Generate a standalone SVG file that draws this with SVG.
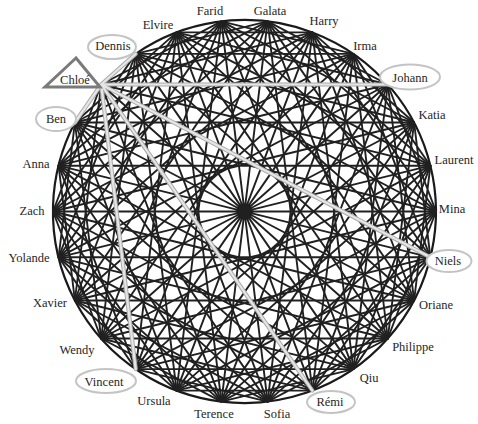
<svg xmlns="http://www.w3.org/2000/svg" width="478" height="424" viewBox="0 0 478 424">
<style>
.ch{fill:none;stroke:#202020;stroke-width:1.9;stroke-linecap:round}
.rim{fill:none;stroke:#1a1a1a;stroke-width:2.2}
.hlo{fill:none;stroke:#a9a9a9;stroke-width:4.2;stroke-linecap:round}
.hli{fill:none;stroke:#e6e6e6;stroke-width:2.2;stroke-linecap:round}
.lb{font-family:"Liberation Serif","Times New Roman",serif;font-size:12.5px;fill:#262626;text-anchor:middle}
.ring{fill:#fff;stroke:#c4c4c4;stroke-width:2}
.tri{fill:#fff;stroke:#7a7a7a;stroke-width:3;stroke-linejoin:miter}
</style>
<rect width="478" height="424" fill="#fff"/>
<g id="connectors">
<path class="rim" d="M135.7,53.9 A191.5,191.5 0 1 1 74.9,122.5"/>
<path class="ch" d="M436,211.5L387.8,84.5M430.4,165.7L353.3,53.9M414.1,122.5L312.4,32.4M387.8,84.5L267.6,21.4M353.3,53.9L221.4,21.4M312.4,32.4L176.6,32.4M267.6,21.4L135.7,53.9M221.4,21.4L101.2,84.5M176.6,32.4L74.9,122.5M135.7,53.9L58.6,165.7M101.2,84.5L53,211.5M74.9,122.5L58.6,257.3M58.6,165.7L74.9,300.5M53,211.5L101.2,338.5M58.6,257.3L135.7,369.1M74.9,300.5L176.6,390.6M101.2,338.5L221.4,401.6M135.7,369.1L267.6,401.6M176.6,390.6L312.4,390.6M221.4,401.6L353.3,369.1M267.6,401.6L387.8,338.5M312.4,390.6L414.1,300.5M353.3,369.1L430.4,257.3M387.8,338.5L436,211.5M414.1,300.5L430.4,165.7M430.4,257.3L414.1,122.5"/>
<path class="ch" d="M436,211.5L312.4,32.4M430.4,165.7L267.6,21.4M414.1,122.5L221.4,21.4M387.8,84.5L176.6,32.4M353.3,53.9L135.7,53.9M312.4,32.4L101.2,84.5M267.6,21.4L74.9,122.5M221.4,21.4L58.6,165.7M176.6,32.4L53,211.5M135.7,53.9L58.6,257.3M101.2,84.5L74.9,300.5M74.9,122.5L101.2,338.5M58.6,165.7L135.7,369.1M53,211.5L176.6,390.6M58.6,257.3L221.4,401.6M74.9,300.5L267.6,401.6M101.2,338.5L312.4,390.6M135.7,369.1L353.3,369.1M176.6,390.6L387.8,338.5M221.4,401.6L414.1,300.5M267.6,401.6L430.4,257.3M312.4,390.6L436,211.5M353.3,369.1L430.4,165.7M387.8,338.5L414.1,122.5M414.1,300.5L387.8,84.5M430.4,257.3L353.3,53.9"/>
<path class="ch" d="M436,211.5L221.4,21.4M430.4,165.7L176.6,32.4M414.1,122.5L135.7,53.9M353.3,53.9L74.9,122.5M312.4,32.4L58.6,165.7M267.6,21.4L53,211.5M221.4,21.4L58.6,257.3M176.6,32.4L74.9,300.5M135.7,53.9L101.2,338.5M74.9,122.5L176.6,390.6M58.6,165.7L221.4,401.6M53,211.5L267.6,401.6M58.6,257.3L312.4,390.6M74.9,300.5L353.3,369.1M101.2,338.5L387.8,338.5M135.7,369.1L414.1,300.5M176.6,390.6L430.4,257.3M221.4,401.6L436,211.5M267.6,401.6L430.4,165.7M312.4,390.6L414.1,122.5M353.3,369.1L387.8,84.5M387.8,338.5L353.3,53.9M414.1,300.5L312.4,32.4M430.4,257.3L267.6,21.4"/>
<path class="ch" d="M436,211.5L135.7,53.9M430.4,165.7L101.2,84.5M414.1,122.5L74.9,122.5M387.8,84.5L58.6,165.7M353.3,53.9L53,211.5M312.4,32.4L58.6,257.3M267.6,21.4L74.9,300.5M221.4,21.4L101.2,338.5M176.6,32.4L135.7,369.1M135.7,53.9L176.6,390.6M101.2,84.5L221.4,401.6M74.9,122.5L267.6,401.6M58.6,165.7L312.4,390.6M53,211.5L353.3,369.1M58.6,257.3L387.8,338.5M74.9,300.5L414.1,300.5M101.2,338.5L430.4,257.3M135.7,369.1L436,211.5M176.6,390.6L430.4,165.7M221.4,401.6L414.1,122.5M267.6,401.6L387.8,84.5M312.4,390.6L353.3,53.9M353.3,369.1L312.4,32.4M387.8,338.5L267.6,21.4M414.1,300.5L221.4,21.4M430.4,257.3L176.6,32.4"/>
<path class="ch" d="M436,211.5L74.9,122.5M430.4,165.7L58.6,165.7M414.1,122.5L53,211.5M387.8,84.5L58.6,257.3M353.3,53.9L74.9,300.5M312.4,32.4L101.2,338.5M267.6,21.4L135.7,369.1M221.4,21.4L176.6,390.6M176.6,32.4L221.4,401.6M135.7,53.9L267.6,401.6M74.9,122.5L353.3,369.1M58.6,165.7L387.8,338.5M53,211.5L414.1,300.5M58.6,257.3L430.4,257.3M74.9,300.5L436,211.5M101.2,338.5L430.4,165.7M135.7,369.1L414.1,122.5M176.6,390.6L387.8,84.5M221.4,401.6L353.3,53.9M267.6,401.6L312.4,32.4M312.4,390.6L267.6,21.4M353.3,369.1L221.4,21.4M387.8,338.5L176.6,32.4M414.1,300.5L135.7,53.9"/>
<path class="ch" d="M436,211.5L53,211.5M430.4,165.7L58.6,257.3M414.1,122.5L74.9,300.5M387.8,84.5L101.2,338.5M353.3,53.9L135.7,369.1M312.4,32.4L176.6,390.6M267.6,21.4L221.4,401.6M221.4,21.4L267.6,401.6M176.6,32.4L312.4,390.6M135.7,53.9L353.3,369.1M101.2,84.5L387.8,338.5M74.9,122.5L414.1,300.5M58.6,165.7L430.4,257.3"/>
<g id="chloe-links">
<path class="hlo" d="M101.2,84.5L387.8,84.5M101.2,84.5L430.4,257.3M101.2,84.5L312.4,390.6M101.2,84.5L135.7,369.1M101.2,84.5L74.9,122.5M101.2,84.5L135.7,53.9"/>
<path class="hli" d="M101.2,84.5L387.8,84.5M101.2,84.5L430.4,257.3M101.2,84.5L312.4,390.6M101.2,84.5L135.7,369.1M101.2,84.5L74.9,122.5M101.2,84.5L135.7,53.9"/>
</g>
</g>
<g id="n-anna"><text class="lb" x="36" y="168">Anna</text></g>
<g id="n-ben"><ellipse class="ring" cx="56" cy="119" rx="20" ry="12"/><text class="lb" x="56" y="123">Ben</text></g>
<g id="n-chloe"><polygon class="tri" points="76,58 45,87 100,87"/><text class="lb" x="75" y="84">Chloé</text></g>
<g id="n-dennis"><ellipse class="ring" cx="112" cy="47" rx="24" ry="12"/><text class="lb" x="113" y="50">Dennis</text></g>
<g id="n-elvire"><text class="lb" x="158" y="29">Elvire</text></g>
<g id="n-farid"><text class="lb" x="210" y="15">Farid</text></g>
<g id="n-galata"><text class="lb" x="270" y="15">Galata</text></g>
<g id="n-harry"><text class="lb" x="324" y="25">Harry</text></g>
<g id="n-irma"><text class="lb" x="365" y="50">Irma</text></g>
<g id="n-johann"><ellipse class="ring" cx="410" cy="77" rx="30" ry="12.5"/><text class="lb" x="410" y="82">Johann</text></g>
<g id="n-katia"><text class="lb" x="432" y="119">Katia</text></g>
<g id="n-laurent"><text class="lb" x="454" y="164">Laurent</text></g>
<g id="n-mina"><text class="lb" x="452" y="213">Mina</text></g>
<g id="n-niels"><ellipse class="ring" cx="449" cy="261" rx="22.5" ry="11"/><text class="lb" x="448" y="265">Niels</text></g>
<g id="n-oriane"><text class="lb" x="436" y="309">Oriane</text></g>
<g id="n-philippe"><text class="lb" x="413" y="351">Philippe</text></g>
<g id="n-qiu"><text class="lb" x="369" y="382">Qiu</text></g>
<g id="n-remi"><ellipse class="ring" cx="331" cy="402" rx="24" ry="11"/><text class="lb" x="330" y="406">Rémi</text></g>
<g id="n-sofia"><text class="lb" x="277" y="418">Sofia</text></g>
<g id="n-terence"><text class="lb" x="214" y="418">Terence</text></g>
<g id="n-ursula"><text class="lb" x="154" y="405">Ursula</text></g>
<g id="n-vincent"><ellipse class="ring" cx="106" cy="381" rx="30" ry="12"/><text class="lb" x="104" y="386">Vincent</text></g>
<g id="n-wendy"><text class="lb" x="77" y="354">Wendy</text></g>
<g id="n-xavier"><text class="lb" x="50" y="307">Xavier</text></g>
<g id="n-yolande"><text class="lb" x="29" y="262">Yolande</text></g>
<g id="n-zach"><text class="lb" x="32" y="215">Zach</text></g>
</svg>
